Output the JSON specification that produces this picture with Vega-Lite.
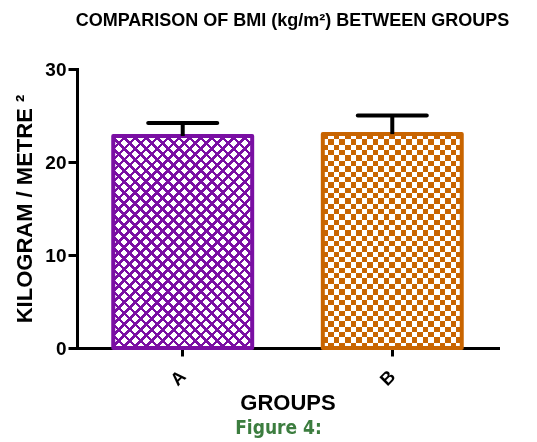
{
"$schema": "https://vega.github.io/schema/vega-lite/v6.json",
"width": 421, "height": 279,
"autosize": {"type": "none"},
"padding": {"left": 77, "top": 69, "right": 39, "bottom": 94},
"background": "white",
"title": {"text": "COMPARISON OF BMI (kg/m²) BETWEEN GROUPS", "font": "Liberation Sans", "fontSize": 18, "fontWeight": "bold", "color": "#000", "anchor": "middle", "frame": "group", "dx": 5, "offset": 30},
"data": {"values": [
 {"group": "A", "mean": 22.8, "upper": 24.2},
 {"group": "B", "mean": 23.0, "upper": 25.0}
]},
"layer": [
 {"transform": [{"filter": "datum.group === 'A'"}],
  "mark": {"type": "bar", "fill": {"gradient": "linear", "x1": 0, "y1": 0, "x2": 0.759, "y2": 1.158, "stops": [
   {"offset": 0, "color": "#7a0fa3"}, {"offset": 0.01, "color": "#7a0fa3"}, {"offset": 0.01, "color": "#fff"}, {"offset": 0.03125, "color": "#fff"},
   {"offset": 0.03125, "color": "#7a0fa3"}, {"offset": 0.04125, "color": "#7a0fa3"}, {"offset": 0.04125, "color": "#fff"}, {"offset": 0.0625, "color": "#fff"},
   {"offset": 0.0625, "color": "#7a0fa3"}, {"offset": 0.0725, "color": "#7a0fa3"}, {"offset": 0.0725, "color": "#fff"}, {"offset": 0.09375, "color": "#fff"},
   {"offset": 0.09375, "color": "#7a0fa3"}, {"offset": 0.10375, "color": "#7a0fa3"}, {"offset": 0.10375, "color": "#fff"}, {"offset": 0.125, "color": "#fff"},
   {"offset": 0.125, "color": "#7a0fa3"}, {"offset": 0.135, "color": "#7a0fa3"}, {"offset": 0.135, "color": "#fff"}, {"offset": 0.15625, "color": "#fff"},
   {"offset": 0.15625, "color": "#7a0fa3"}, {"offset": 0.16625, "color": "#7a0fa3"}, {"offset": 0.16625, "color": "#fff"}, {"offset": 0.1875, "color": "#fff"},
   {"offset": 0.1875, "color": "#7a0fa3"}, {"offset": 0.1975, "color": "#7a0fa3"}, {"offset": 0.1975, "color": "#fff"}, {"offset": 0.21875, "color": "#fff"},
   {"offset": 0.21875, "color": "#7a0fa3"}, {"offset": 0.22875, "color": "#7a0fa3"}, {"offset": 0.22875, "color": "#fff"}, {"offset": 0.25, "color": "#fff"},
   {"offset": 0.25, "color": "#7a0fa3"}, {"offset": 0.26, "color": "#7a0fa3"}, {"offset": 0.26, "color": "#fff"}, {"offset": 0.28125, "color": "#fff"},
   {"offset": 0.28125, "color": "#7a0fa3"}, {"offset": 0.29125, "color": "#7a0fa3"}, {"offset": 0.29125, "color": "#fff"}, {"offset": 0.3125, "color": "#fff"},
   {"offset": 0.3125, "color": "#7a0fa3"}, {"offset": 0.3225, "color": "#7a0fa3"}, {"offset": 0.3225, "color": "#fff"}, {"offset": 0.34375, "color": "#fff"},
   {"offset": 0.34375, "color": "#7a0fa3"}, {"offset": 0.35375, "color": "#7a0fa3"}, {"offset": 0.35375, "color": "#fff"}, {"offset": 0.375, "color": "#fff"},
   {"offset": 0.375, "color": "#7a0fa3"}, {"offset": 0.385, "color": "#7a0fa3"}, {"offset": 0.385, "color": "#fff"}, {"offset": 0.40625, "color": "#fff"},
   {"offset": 0.40625, "color": "#7a0fa3"}, {"offset": 0.41625, "color": "#7a0fa3"}, {"offset": 0.41625, "color": "#fff"}, {"offset": 0.4375, "color": "#fff"},
   {"offset": 0.4375, "color": "#7a0fa3"}, {"offset": 0.4475, "color": "#7a0fa3"}, {"offset": 0.4475, "color": "#fff"}, {"offset": 0.46875, "color": "#fff"},
   {"offset": 0.46875, "color": "#7a0fa3"}, {"offset": 0.47875, "color": "#7a0fa3"}, {"offset": 0.47875, "color": "#fff"}, {"offset": 0.5, "color": "#fff"},
   {"offset": 0.5, "color": "#7a0fa3"}, {"offset": 0.51, "color": "#7a0fa3"}, {"offset": 0.51, "color": "#fff"}, {"offset": 0.53125, "color": "#fff"},
   {"offset": 0.53125, "color": "#7a0fa3"}, {"offset": 0.54125, "color": "#7a0fa3"}, {"offset": 0.54125, "color": "#fff"}, {"offset": 0.5625, "color": "#fff"},
   {"offset": 0.5625, "color": "#7a0fa3"}, {"offset": 0.5725, "color": "#7a0fa3"}, {"offset": 0.5725, "color": "#fff"}, {"offset": 0.59375, "color": "#fff"},
   {"offset": 0.59375, "color": "#7a0fa3"}, {"offset": 0.60375, "color": "#7a0fa3"}, {"offset": 0.60375, "color": "#fff"}, {"offset": 0.625, "color": "#fff"},
   {"offset": 0.625, "color": "#7a0fa3"}, {"offset": 0.635, "color": "#7a0fa3"}, {"offset": 0.635, "color": "#fff"}, {"offset": 0.65625, "color": "#fff"},
   {"offset": 0.65625, "color": "#7a0fa3"}, {"offset": 0.66625, "color": "#7a0fa3"}, {"offset": 0.66625, "color": "#fff"}, {"offset": 0.6875, "color": "#fff"},
   {"offset": 0.6875, "color": "#7a0fa3"}, {"offset": 0.6975, "color": "#7a0fa3"}, {"offset": 0.6975, "color": "#fff"}, {"offset": 0.71875, "color": "#fff"},
   {"offset": 0.71875, "color": "#7a0fa3"}, {"offset": 0.72875, "color": "#7a0fa3"}, {"offset": 0.72875, "color": "#fff"}, {"offset": 0.75, "color": "#fff"},
   {"offset": 0.75, "color": "#7a0fa3"}, {"offset": 0.76, "color": "#7a0fa3"}, {"offset": 0.76, "color": "#fff"}, {"offset": 0.78125, "color": "#fff"},
   {"offset": 0.78125, "color": "#7a0fa3"}, {"offset": 0.79125, "color": "#7a0fa3"}, {"offset": 0.79125, "color": "#fff"}, {"offset": 0.8125, "color": "#fff"},
   {"offset": 0.8125, "color": "#7a0fa3"}, {"offset": 0.8225, "color": "#7a0fa3"}, {"offset": 0.8225, "color": "#fff"}, {"offset": 0.84375, "color": "#fff"},
   {"offset": 0.84375, "color": "#7a0fa3"}, {"offset": 0.85375, "color": "#7a0fa3"}, {"offset": 0.85375, "color": "#fff"}, {"offset": 0.875, "color": "#fff"},
   {"offset": 0.875, "color": "#7a0fa3"}, {"offset": 0.885, "color": "#7a0fa3"}, {"offset": 0.885, "color": "#fff"}, {"offset": 0.90625, "color": "#fff"},
   {"offset": 0.90625, "color": "#7a0fa3"}, {"offset": 0.91625, "color": "#7a0fa3"}, {"offset": 0.91625, "color": "#fff"}, {"offset": 0.9375, "color": "#fff"},
   {"offset": 0.9375, "color": "#7a0fa3"}, {"offset": 0.9475, "color": "#7a0fa3"}, {"offset": 0.9475, "color": "#fff"}, {"offset": 0.96875, "color": "#fff"},
   {"offset": 0.96875, "color": "#7a0fa3"}, {"offset": 0.97875, "color": "#7a0fa3"}, {"offset": 0.97875, "color": "#fff"}, {"offset": 1, "color": "#fff"}
  ]}},
  "encoding": {
   "x": {"field": "group", "type": "nominal", "scale": {"domain": ["A", "B"], "paddingInner": 0.337, "paddingOuter": 0.173},
    "axis": {"orient": "bottom", "title": "GROUPS", "labelAngle": -45, "labelAlign": "center", "labelBaseline": "middle", "labelFontSize": 18, "labelFontWeight": "bold", "labelPadding": 22, "labelOffset": -4, "tickSize": 8, "tickWidth": 3, "domainWidth": 3, "domainCap": "square", "titleFontSize": 22, "titleFontWeight": "bold", "titlePadding": 4}},
   "y": {"field": "mean", "type": "quantitative", "scale": {"domain": [0, 30], "nice": false},
    "axis": {"orient": "left", "title": "KILOGRAM / METRE ²", "values": [0, 10, 20, 30], "labelFontSize": 19, "labelFontWeight": "bold", "labelPadding": 2, "tickSize": 9, "tickWidth": 3, "domainWidth": 3, "domainCap": "square", "titleFontSize": 22, "titleFontWeight": "bold", "titlePadding": 8}}
  }
 },
 {"transform": [{"filter": "datum.group === 'A'"}],
  "mark": {"type": "bar", "fill": {"gradient": "linear", "x1": 0, "y1": 1, "x2": 0.759, "y2": -0.158, "stops": [
   {"offset": 0, "color": "#7a0fa3"}, {"offset": 0.01, "color": "#7a0fa3"}, {"offset": 0.01, "color": "transparent"}, {"offset": 0.03125, "color": "transparent"},
   {"offset": 0.03125, "color": "#7a0fa3"}, {"offset": 0.04125, "color": "#7a0fa3"}, {"offset": 0.04125, "color": "transparent"}, {"offset": 0.0625, "color": "transparent"},
   {"offset": 0.0625, "color": "#7a0fa3"}, {"offset": 0.0725, "color": "#7a0fa3"}, {"offset": 0.0725, "color": "transparent"}, {"offset": 0.09375, "color": "transparent"},
   {"offset": 0.09375, "color": "#7a0fa3"}, {"offset": 0.10375, "color": "#7a0fa3"}, {"offset": 0.10375, "color": "transparent"}, {"offset": 0.125, "color": "transparent"},
   {"offset": 0.125, "color": "#7a0fa3"}, {"offset": 0.135, "color": "#7a0fa3"}, {"offset": 0.135, "color": "transparent"}, {"offset": 0.15625, "color": "transparent"},
   {"offset": 0.15625, "color": "#7a0fa3"}, {"offset": 0.16625, "color": "#7a0fa3"}, {"offset": 0.16625, "color": "transparent"}, {"offset": 0.1875, "color": "transparent"},
   {"offset": 0.1875, "color": "#7a0fa3"}, {"offset": 0.1975, "color": "#7a0fa3"}, {"offset": 0.1975, "color": "transparent"}, {"offset": 0.21875, "color": "transparent"},
   {"offset": 0.21875, "color": "#7a0fa3"}, {"offset": 0.22875, "color": "#7a0fa3"}, {"offset": 0.22875, "color": "transparent"}, {"offset": 0.25, "color": "transparent"},
   {"offset": 0.25, "color": "#7a0fa3"}, {"offset": 0.26, "color": "#7a0fa3"}, {"offset": 0.26, "color": "transparent"}, {"offset": 0.28125, "color": "transparent"},
   {"offset": 0.28125, "color": "#7a0fa3"}, {"offset": 0.29125, "color": "#7a0fa3"}, {"offset": 0.29125, "color": "transparent"}, {"offset": 0.3125, "color": "transparent"},
   {"offset": 0.3125, "color": "#7a0fa3"}, {"offset": 0.3225, "color": "#7a0fa3"}, {"offset": 0.3225, "color": "transparent"}, {"offset": 0.34375, "color": "transparent"},
   {"offset": 0.34375, "color": "#7a0fa3"}, {"offset": 0.35375, "color": "#7a0fa3"}, {"offset": 0.35375, "color": "transparent"}, {"offset": 0.375, "color": "transparent"},
   {"offset": 0.375, "color": "#7a0fa3"}, {"offset": 0.385, "color": "#7a0fa3"}, {"offset": 0.385, "color": "transparent"}, {"offset": 0.40625, "color": "transparent"},
   {"offset": 0.40625, "color": "#7a0fa3"}, {"offset": 0.41625, "color": "#7a0fa3"}, {"offset": 0.41625, "color": "transparent"}, {"offset": 0.4375, "color": "transparent"},
   {"offset": 0.4375, "color": "#7a0fa3"}, {"offset": 0.4475, "color": "#7a0fa3"}, {"offset": 0.4475, "color": "transparent"}, {"offset": 0.46875, "color": "transparent"},
   {"offset": 0.46875, "color": "#7a0fa3"}, {"offset": 0.47875, "color": "#7a0fa3"}, {"offset": 0.47875, "color": "transparent"}, {"offset": 0.5, "color": "transparent"},
   {"offset": 0.5, "color": "#7a0fa3"}, {"offset": 0.51, "color": "#7a0fa3"}, {"offset": 0.51, "color": "transparent"}, {"offset": 0.53125, "color": "transparent"},
   {"offset": 0.53125, "color": "#7a0fa3"}, {"offset": 0.54125, "color": "#7a0fa3"}, {"offset": 0.54125, "color": "transparent"}, {"offset": 0.5625, "color": "transparent"},
   {"offset": 0.5625, "color": "#7a0fa3"}, {"offset": 0.5725, "color": "#7a0fa3"}, {"offset": 0.5725, "color": "transparent"}, {"offset": 0.59375, "color": "transparent"},
   {"offset": 0.59375, "color": "#7a0fa3"}, {"offset": 0.60375, "color": "#7a0fa3"}, {"offset": 0.60375, "color": "transparent"}, {"offset": 0.625, "color": "transparent"},
   {"offset": 0.625, "color": "#7a0fa3"}, {"offset": 0.635, "color": "#7a0fa3"}, {"offset": 0.635, "color": "transparent"}, {"offset": 0.65625, "color": "transparent"},
   {"offset": 0.65625, "color": "#7a0fa3"}, {"offset": 0.66625, "color": "#7a0fa3"}, {"offset": 0.66625, "color": "transparent"}, {"offset": 0.6875, "color": "transparent"},
   {"offset": 0.6875, "color": "#7a0fa3"}, {"offset": 0.6975, "color": "#7a0fa3"}, {"offset": 0.6975, "color": "transparent"}, {"offset": 0.71875, "color": "transparent"},
   {"offset": 0.71875, "color": "#7a0fa3"}, {"offset": 0.72875, "color": "#7a0fa3"}, {"offset": 0.72875, "color": "transparent"}, {"offset": 0.75, "color": "transparent"},
   {"offset": 0.75, "color": "#7a0fa3"}, {"offset": 0.76, "color": "#7a0fa3"}, {"offset": 0.76, "color": "transparent"}, {"offset": 0.78125, "color": "transparent"},
   {"offset": 0.78125, "color": "#7a0fa3"}, {"offset": 0.79125, "color": "#7a0fa3"}, {"offset": 0.79125, "color": "transparent"}, {"offset": 0.8125, "color": "transparent"},
   {"offset": 0.8125, "color": "#7a0fa3"}, {"offset": 0.8225, "color": "#7a0fa3"}, {"offset": 0.8225, "color": "transparent"}, {"offset": 0.84375, "color": "transparent"},
   {"offset": 0.84375, "color": "#7a0fa3"}, {"offset": 0.85375, "color": "#7a0fa3"}, {"offset": 0.85375, "color": "transparent"}, {"offset": 0.875, "color": "transparent"},
   {"offset": 0.875, "color": "#7a0fa3"}, {"offset": 0.885, "color": "#7a0fa3"}, {"offset": 0.885, "color": "transparent"}, {"offset": 0.90625, "color": "transparent"},
   {"offset": 0.90625, "color": "#7a0fa3"}, {"offset": 0.91625, "color": "#7a0fa3"}, {"offset": 0.91625, "color": "transparent"}, {"offset": 0.9375, "color": "transparent"},
   {"offset": 0.9375, "color": "#7a0fa3"}, {"offset": 0.9475, "color": "#7a0fa3"}, {"offset": 0.9475, "color": "transparent"}, {"offset": 0.96875, "color": "transparent"},
   {"offset": 0.96875, "color": "#7a0fa3"}, {"offset": 0.97875, "color": "#7a0fa3"}, {"offset": 0.97875, "color": "transparent"}, {"offset": 1, "color": "transparent"}
  ]}},
  "encoding": {"x": {"field": "group", "type": "nominal", "axis": null},
   "y": {"field": "mean", "type": "quantitative"}}
 },
 {"transform": [{"filter": "datum.group === 'B'"}],
  "mark": {"type": "bar", "fill": {"gradient": "linear", "x1": 0, "y1": 0, "x2": 1, "y2": 0, "stops": [
   {"offset": 0, "color": "#fff"}, {"offset": 0.04, "color": "#fff"}, {"offset": 0.04, "color": "#000"}, {"offset": 0.08, "color": "#000"},
   {"offset": 0.08, "color": "#fff"}, {"offset": 0.12, "color": "#fff"}, {"offset": 0.12, "color": "#000"}, {"offset": 0.16, "color": "#000"},
   {"offset": 0.16, "color": "#fff"}, {"offset": 0.2, "color": "#fff"}, {"offset": 0.2, "color": "#000"}, {"offset": 0.24, "color": "#000"},
   {"offset": 0.24, "color": "#fff"}, {"offset": 0.28, "color": "#fff"}, {"offset": 0.28, "color": "#000"}, {"offset": 0.32, "color": "#000"},
   {"offset": 0.32, "color": "#fff"}, {"offset": 0.36, "color": "#fff"}, {"offset": 0.36, "color": "#000"}, {"offset": 0.4, "color": "#000"},
   {"offset": 0.4, "color": "#fff"}, {"offset": 0.44, "color": "#fff"}, {"offset": 0.44, "color": "#000"}, {"offset": 0.48, "color": "#000"},
   {"offset": 0.48, "color": "#fff"}, {"offset": 0.52, "color": "#fff"}, {"offset": 0.52, "color": "#000"}, {"offset": 0.56, "color": "#000"},
   {"offset": 0.56, "color": "#fff"}, {"offset": 0.6, "color": "#fff"}, {"offset": 0.6, "color": "#000"}, {"offset": 0.64, "color": "#000"},
   {"offset": 0.64, "color": "#fff"}, {"offset": 0.68, "color": "#fff"}, {"offset": 0.68, "color": "#000"}, {"offset": 0.72, "color": "#000"},
   {"offset": 0.72, "color": "#fff"}, {"offset": 0.76, "color": "#fff"}, {"offset": 0.76, "color": "#000"}, {"offset": 0.8, "color": "#000"},
   {"offset": 0.8, "color": "#fff"}, {"offset": 0.84, "color": "#fff"}, {"offset": 0.84, "color": "#000"}, {"offset": 0.88, "color": "#000"},
   {"offset": 0.88, "color": "#fff"}, {"offset": 0.92, "color": "#fff"}, {"offset": 0.92, "color": "#000"}, {"offset": 0.96, "color": "#000"},
   {"offset": 0.96, "color": "#fff"}, {"offset": 1, "color": "#fff"}
  ]}},
  "encoding": {"x": {"field": "group", "type": "nominal", "axis": null},
   "y": {"field": "mean", "type": "quantitative"}}
 },
 {"transform": [{"filter": "datum.group === 'B'"}],
  "mark": {"type": "bar", "blend": "difference", "fill": {"gradient": "linear", "x1": 0, "y1": 0, "x2": 0, "y2": 1, "stops": [
   {"offset": 0, "color": "#fff"}, {"offset": 0.025, "color": "#fff"}, {"offset": 0.025, "color": "transparent"}, {"offset": 0.05, "color": "transparent"},
   {"offset": 0.05, "color": "#fff"}, {"offset": 0.075, "color": "#fff"}, {"offset": 0.075, "color": "transparent"}, {"offset": 0.1, "color": "transparent"},
   {"offset": 0.1, "color": "#fff"}, {"offset": 0.125, "color": "#fff"}, {"offset": 0.125, "color": "transparent"}, {"offset": 0.15, "color": "transparent"},
   {"offset": 0.15, "color": "#fff"}, {"offset": 0.175, "color": "#fff"}, {"offset": 0.175, "color": "transparent"}, {"offset": 0.2, "color": "transparent"},
   {"offset": 0.2, "color": "#fff"}, {"offset": 0.225, "color": "#fff"}, {"offset": 0.225, "color": "transparent"}, {"offset": 0.25, "color": "transparent"},
   {"offset": 0.25, "color": "#fff"}, {"offset": 0.275, "color": "#fff"}, {"offset": 0.275, "color": "transparent"}, {"offset": 0.3, "color": "transparent"},
   {"offset": 0.3, "color": "#fff"}, {"offset": 0.325, "color": "#fff"}, {"offset": 0.325, "color": "transparent"}, {"offset": 0.35, "color": "transparent"},
   {"offset": 0.35, "color": "#fff"}, {"offset": 0.375, "color": "#fff"}, {"offset": 0.375, "color": "transparent"}, {"offset": 0.4, "color": "transparent"},
   {"offset": 0.4, "color": "#fff"}, {"offset": 0.425, "color": "#fff"}, {"offset": 0.425, "color": "transparent"}, {"offset": 0.45, "color": "transparent"},
   {"offset": 0.45, "color": "#fff"}, {"offset": 0.475, "color": "#fff"}, {"offset": 0.475, "color": "transparent"}, {"offset": 0.5, "color": "transparent"},
   {"offset": 0.5, "color": "#fff"}, {"offset": 0.525, "color": "#fff"}, {"offset": 0.525, "color": "transparent"}, {"offset": 0.55, "color": "transparent"},
   {"offset": 0.55, "color": "#fff"}, {"offset": 0.575, "color": "#fff"}, {"offset": 0.575, "color": "transparent"}, {"offset": 0.6, "color": "transparent"},
   {"offset": 0.6, "color": "#fff"}, {"offset": 0.625, "color": "#fff"}, {"offset": 0.625, "color": "transparent"}, {"offset": 0.65, "color": "transparent"},
   {"offset": 0.65, "color": "#fff"}, {"offset": 0.675, "color": "#fff"}, {"offset": 0.675, "color": "transparent"}, {"offset": 0.7, "color": "transparent"},
   {"offset": 0.7, "color": "#fff"}, {"offset": 0.725, "color": "#fff"}, {"offset": 0.725, "color": "transparent"}, {"offset": 0.75, "color": "transparent"},
   {"offset": 0.75, "color": "#fff"}, {"offset": 0.775, "color": "#fff"}, {"offset": 0.775, "color": "transparent"}, {"offset": 0.8, "color": "transparent"},
   {"offset": 0.8, "color": "#fff"}, {"offset": 0.825, "color": "#fff"}, {"offset": 0.825, "color": "transparent"}, {"offset": 0.85, "color": "transparent"},
   {"offset": 0.85, "color": "#fff"}, {"offset": 0.875, "color": "#fff"}, {"offset": 0.875, "color": "transparent"}, {"offset": 0.9, "color": "transparent"},
   {"offset": 0.9, "color": "#fff"}, {"offset": 0.925, "color": "#fff"}, {"offset": 0.925, "color": "transparent"}, {"offset": 0.95, "color": "transparent"},
   {"offset": 0.95, "color": "#fff"}, {"offset": 0.975, "color": "#fff"}, {"offset": 0.975, "color": "transparent"}, {"offset": 1, "color": "transparent"}
  ]}},
  "encoding": {"x": {"field": "group", "type": "nominal", "axis": null},
   "y": {"field": "mean", "type": "quantitative"}}
 },
 {"transform": [{"filter": "datum.group === 'B'"}],
  "mark": {"type": "bar", "blend": "screen", "fill": "#c86400"},
  "encoding": {"x": {"field": "group", "type": "nominal", "axis": null},
   "y": {"field": "mean", "type": "quantitative"}}
 },
 {"mark": {"type": "bar", "fill": "transparent", "strokeWidth": 4, "strokeJoin": "round"},
  "encoding": {"x": {"field": "group", "type": "nominal", "axis": null},
   "y": {"field": "mean", "type": "quantitative"},
   "stroke": {"field": "group", "type": "nominal", "scale": {"domain": ["A", "B"], "range": ["#7a0fa3", "#c86400"]}, "legend": null}}
 },
 {"mark": {"type": "rule", "strokeWidth": 4, "color": "#000"},
  "encoding": {"x": {"field": "group", "type": "nominal", "axis": null},
   "y": {"field": "mean", "type": "quantitative"},
   "y2": {"field": "upper"}}
 },
 {"mark": {"type": "tick", "size": 73, "thickness": 4, "color": "#000", "opacity": 1, "cornerRadius": 2},
  "encoding": {"x": {"field": "group", "type": "nominal",
    "axis": {"orient": "bottom", "title": "Figure 4:", "labels": false, "ticks": false, "domain": false, "titleFont": "DejaVu Sans Condensed", "titleFontSize": 19, "titleFontWeight": "bold", "titleColor": "#3c7d3f", "titlePadding": 70, "titleX": 201}},
   "y": {"field": "upper", "type": "quantitative"}}
 }
],
"resolve": {"axis": {"x": "independent", "y": "shared"}},
"config": {
 "view": {"stroke": null},
 "axis": {"grid": false, "domainColor": "#000", "tickColor": "#000", "labelColor": "#000", "titleColor": "#000", "labelFont": "Liberation Sans", "titleFont": "Liberation Sans"}
}
}
